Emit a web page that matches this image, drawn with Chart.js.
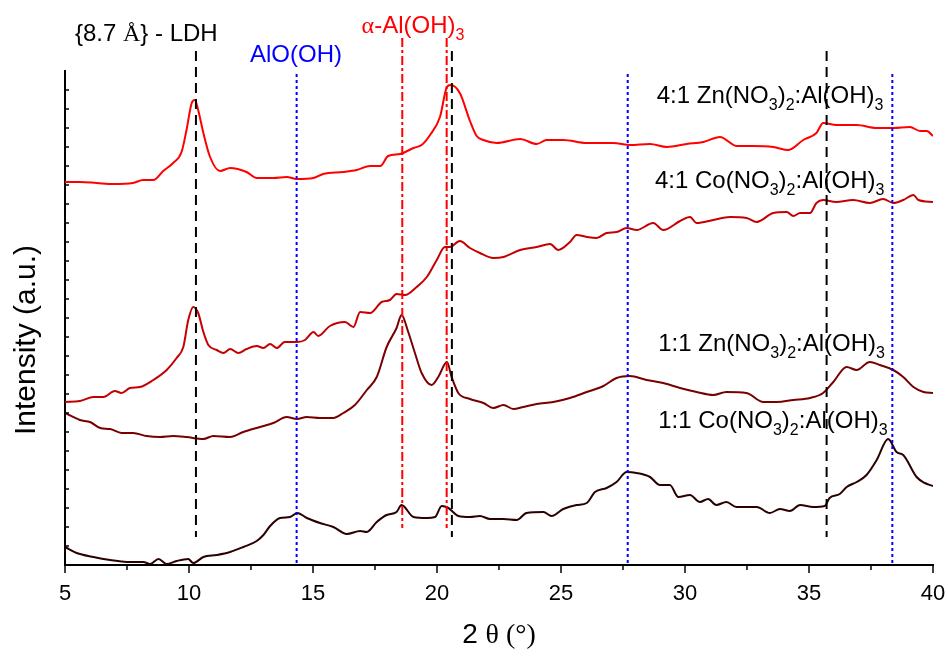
<!DOCTYPE html>
<html>
<head>
<meta charset="utf-8">
<script src="https://cdn.jsdelivr.net/npm/chart.js@4.4.1/dist/chart.umd.min.js"></script>
<style>
  html, body { margin: 0; padding: 0; background: #fff; }
</style>
</head>
<body>
<canvas id="xrd" width="948" height="659"></canvas>
<script>
// XRD patterns, 2θ in degrees / intensity in a.u. (curves are stacked with offsets)
const zn41Angle = [5, 5.6, 6.28, 6.94, 7.74, 8.15, 8.56, 8.96, 9.36, 9.70, 9.90, 10.11, 10.24, 10.37, 10.58,
  10.85, 11.25, 11.66, 12.32, 12.73, 13.40, 13.94, 14.35, 15.02, 15.41, 16.22, 16.76, 17.30, 17.71, 18.03,
  18.51, 19.05, 19.38, 19.72, 20.12, 20.40, 20.55, 20.92, 21.33, 21.60, 21.87, 22.41, 23.35, 24.02, 24.42,
  25.09, 26.04, 27.11, 27.78, 28.59, 29.27, 30.07, 30.74, 31.41, 32.09, 32.75, 33.56, 34.17, 34.77, 35.30,
  35.57, 36.11, 36.92, 37.73, 38.40, 39.07, 39.48, 39.75, 40];
const zn41Int = [383, 383, 382, 381, 382, 385, 385, 394, 402, 413, 435, 462, 465, 455, 432,
  408, 394, 397, 393, 387, 387, 388, 386, 387, 391, 393, 395, 399, 399, 409,
  411, 417, 420, 430, 448, 478, 480, 472, 444, 429, 425, 422, 426, 421, 425,
  425, 422, 422, 420, 421, 418, 421, 423, 428, 419, 419, 418, 415, 425, 432,
  442, 440, 440, 437, 437, 438, 434, 434, 429];

const co41Angle = [5, 5.6, 6.15, 6.55, 7.01, 7.28, 7.62, 8.02, 8.56, 9.10, 9.50, 9.77, 9.97, 10.17, 10.37,
  10.58, 10.78, 11.12, 11.39, 11.66, 11.99, 12.32, 12.73, 13.00, 13.27, 13.54, 13.86, 14.35, 14.68, 15.02,
  15.21, 15.68, 16.29, 16.63, 16.90, 17.30, 17.77, 18.10, 18.37, 18.71, 19.18, 19.59, 19.99, 20.32, 20.52,
  20.92, 21.33, 21.73, 22.27, 22.68, 23.35, 24.02, 24.56, 24.89, 25.36, 25.63, 26.04, 26.44, 26.84, 27.24,
  27.65, 28.05, 28.72, 29.12, 29.80, 30.20, 30.47, 31.14, 31.81, 32.48, 32.89, 33.56, 34.10, 34.37, 34.64,
  35.04, 35.30, 35.57, 36.09, 36.78, 37.45, 37.99, 38.40, 38.80, 39.21, 39.41, 40];
const co41Int = [163, 164, 168, 168, 174, 172, 177, 178, 185, 195, 207, 218, 245, 258, 252,
  233, 220, 215, 212, 216, 212, 216, 219, 217, 221, 217, 223, 223, 225, 233,
  229, 239, 243, 238, 253, 252, 263, 265, 271, 270, 278, 288, 305, 318, 318,
  324, 317, 312, 307, 308, 315, 318, 321, 315, 323, 330, 328, 327, 332, 333,
  337, 335, 342, 335, 344, 348, 342, 345, 348, 347, 343, 352, 353, 349, 352,
  352, 362, 365, 363, 365, 362, 366, 362, 365, 370, 365, 363];

const zn11Angle = [5, 5.6, 6.01, 6.42, 6.82, 7.28, 7.75, 8.29, 8.83, 9.36, 9.90, 10.58, 10.98, 11.66, 12.19,
  12.86, 13.40, 13.94, 14.35, 14.75, 15.28, 15.82, 16.22, 16.69, 17.17, 17.57, 17.97, 18.37, 18.57, 18.84,
  19.11, 19.38, 19.78, 20.05, 20.40, 20.59, 20.86, 21.33, 21.87, 22.27, 22.68, 23.08, 23.48, 24.02, 24.69,
  25.36, 26.04, 26.71, 27.24, 27.78, 28.45, 29.12, 29.80, 30.47, 31.14, 31.67, 32.48, 33.16, 33.70, 34.37,
  35.04, 35.57, 35.98, 36.52, 36.92, 37.45, 37.86, 38.40, 38.80, 39.21, 39.62, 40];
const zn11Int = [152, 145, 143, 137, 136, 132, 132, 129, 128, 129, 128, 126, 129, 128, 133,
  138, 142, 148, 146, 148, 147, 147, 152, 160, 175, 188, 218, 237, 250, 233,
  212, 192, 180, 188, 203, 188, 172, 166, 162, 157, 160, 156, 158, 161, 163,
  167, 173, 179, 187, 189, 185, 182, 177, 173, 170, 173, 172, 163, 163, 165,
  167, 172, 183, 198, 195, 203, 200, 195, 188, 178, 173, 172];

const co11Angle = [5, 5.47, 6.15, 6.82, 7.49, 8.16, 8.43, 8.77, 9.10, 9.50, 9.97, 10.17, 10.58, 11.12, 11.66,
  12.19, 12.73, 13.00, 13.27, 13.67, 14.07, 14.37, 14.75, 15.28, 15.82, 16.36, 16.90, 17.17, 17.57, 17.97,
  18.37, 18.57, 19.05, 19.59, 19.92, 20.19, 20.46, 20.86, 21.33, 21.73, 22.14, 22.68, 23.21, 23.61, 24.29,
  24.62, 25.09, 25.63, 26.04, 26.37, 26.84, 27.24, 27.65, 28.05, 28.59, 28.99, 29.39, 29.73, 30.20, 30.60,
  30.93, 31.26, 31.67, 32.07, 32.48, 32.89, 33.42, 33.83, 34.23, 34.64, 35.17, 35.63, 35.83, 36.24, 36.52,
  36.92, 37.32, 37.73, 38.19, 38.53, 38.80, 39.34, 39.67, 40];
const co11Int = [18, 12, 8, 5, 3, 3, 1, 6, 1, 4, 6, 2, 8, 10, 13,
  18, 24, 30, 39, 47, 48, 52, 47, 42, 38, 31, 34, 33, 43, 50,
  53, 60, 48, 47, 48, 59, 57, 49, 48, 49, 46, 46, 45, 52, 53,
  49, 56, 60, 62, 73, 77, 83, 93, 92, 88, 80, 80, 68, 70, 63,
  66, 60, 63, 58, 58, 58, 52, 56, 54, 60, 58, 59, 67, 71, 78,
  83, 90, 105, 126, 113, 110, 88, 82, 79];

// reference phase positions (2θ) and how far each marker line runs (a.u.)
const ldhAngles = [10.28, 20.6, 35.71];
const ldhSpan = [514, 28];
const aloohAngles = [14.34, 27.69, 38.36];
const aloohSpan = [491, 2];
const alohAngles = [18.6, 20.39];
const alohSpan = [527, 37];

const xTicks = { min: 5, max: 40, step: 2.5 };
const yRange = { min: 0, max: 494, step: 19 };

const SANS = '"Liberation Sans", Arial, sans-serif';
const SERIF = '"Liberation Serif", "Times New Roman", serif';

// text annotations: anchor in data units, parts: n = normal, s = subscript, g = serif glyph
const notes = [
  { x: 5.40, y: 524, color: '#000', size: 24, parts: [['{8.7 ', 'n'], ['Å', 'g'], ['} - LDH', 'n']] },
  { x: 12.46, y: 503, color: '#0000ff', size: 24, parts: [['AlO(OH)', 'n']] },
  { x: 16.96, y: 532, color: '#ff0000', size: 24, parts: [['α', 'g'], ['-Al(OH)', 'n'], ['3', 's']] },
  { x: 28.86, y: 462, color: '#000', size: 24, parts: [['4:1 Zn(NO', 'n'], ['3', 's'], [')', 'n'], ['2', 's'], [':Al(OH)', 'n'], ['3', 's']] },
  { x: 28.79, y: 377, color: '#000', size: 24, parts: [['4:1 Co(NO', 'n'], ['3', 's'], [')', 'n'], ['2', 's'], [':Al(OH)', 'n'], ['3', 's']] },
  { x: 28.92, y: 214, color: '#000', size: 24, parts: [['1:1 Zn(NO', 'n'], ['3', 's'], [')', 'n'], ['2', 's'], [':Al(OH)', 'n'], ['3', 's']] },
  { x: 28.92, y: 137, color: '#000', size: 24, parts: [['1:1 Co(NO', 'n'], ['3', 's'], [')', 'n'], ['2', 's'], [':Al(OH)', 'n'], ['3', 's']] }
];

const zip = (xs, ys) => xs.map((v, i) => ({ x: v, y: ys[i] }));

function curve(label, xs, ys, color) {
  return { label, data: zip(xs, ys), borderColor: color, borderWidth: 2, pointRadius: 0,
           showLine: true, cubicInterpolationMode: 'monotone', order: 1 };
}

function markers(angles, span, color, dash) {
  return angles.map(a => ({
    data: [{ x: a, y: span[0] }, { x: a, y: span[1] }],
    borderColor: color, borderWidth: 2, borderDash: dash, pointRadius: 0,
    showLine: true, clip: false, order: 0
  }));
}

const datasets = [
  curve('4:1 Zn', zn41Angle, zn41Int, '#ff0000'),
  curve('4:1 Co', co41Angle, co41Int, '#c40000'),
  curve('1:1 Zn', zn11Angle, zn11Int, '#780000'),
  curve('1:1 Co', co11Angle, co11Int, '#2a0000'),
  ...markers(ldhAngles, ldhSpan, '#000', [10, 6]),
  ...markers(aloohAngles, aloohSpan, '#0000ff', [3, 3]),
  ...markers(alohAngles, alohSpan, '#ff0000', [9, 3, 3, 3])
];

function drawParts(ctx, parts, px, py, size) {
  let cx = px;
  parts.forEach(([t, kind]) => {
    const f = kind === 's' ? Math.round(size * 0.66) : size;
    const dy = kind === 's' ? size * 0.3 : 0;
    ctx.font = f + 'px ' + (kind === 'g' ? SERIF : SANS);
    ctx.fillText(t, cx, py + dy);
    cx += ctx.measureText(t).width;
  });
}

// axis tick marks (outward on x, inward on y), titles and labels
const decorations = {
  id: 'decorations',
  afterDraw(chart) {
    const { ctx, chartArea: area, scales: { x, y } } = chart;
    ctx.save();
    ctx.strokeStyle = '#000';
    ctx.lineWidth = 1.5;
    x.ticks.forEach(t => {
      const px = x.getPixelForValue(t.value);
      const len = t.value % 5 === 0 ? 8 : 5;
      ctx.beginPath();
      ctx.moveTo(px, area.bottom);
      ctx.lineTo(px, area.bottom + len);
      ctx.stroke();
    });
    y.ticks.forEach(t => {
      if (t.value <= yRange.min || t.value >= yRange.max) return;
      const py = y.getPixelForValue(t.value);
      ctx.beginPath();
      ctx.moveTo(area.left, py);
      ctx.lineTo(area.left + 4, py);
      ctx.stroke();
    });

    ctx.textBaseline = 'alphabetic';
    ctx.textAlign = 'left';
    notes.forEach(n => {
      ctx.fillStyle = n.color;
      drawParts(ctx, n.parts, x.getPixelForValue(n.x), y.getPixelForValue(n.y), n.size);
    });

    // x title: "2 θ (°)"
    ctx.fillStyle = '#000';
    const xParts = [['2 ', 'n'], ['θ (°)', 'g']];
    let w = 0;
    xParts.forEach(([t, k]) => { ctx.font = '28px ' + (k === 'g' ? SERIF : SANS); w += ctx.measureText(t).width; });
    drawParts(ctx, xParts, (area.left + area.right) / 2 - w / 2, area.bottom + 78, 28);

    // y title
    ctx.translate(area.left - 30, area.bottom - 225);
    ctx.rotate(-Math.PI / 2);
    ctx.textAlign = 'center';
    ctx.font = '30px ' + SANS;
    ctx.fillText('Intensity (a.u.)', 0, 0);
    ctx.restore();
  }
};

new Chart(document.getElementById('xrd'), {
  type: 'scatter',
  data: { datasets },
  options: {
    responsive: false,
    animation: false,
    layout: { padding: { top: 71, right: 15, left: 0, bottom: 0 } },
    plugins: { legend: { display: false }, tooltip: { enabled: false } },
    scales: {
      x: {
        type: 'linear', min: xTicks.min, max: xTicks.max,
        grid: { display: false },
        border: { display: true, color: '#000', width: 2 },
        ticks: {
          stepSize: xTicks.step, autoSkip: false, maxRotation: 0, padding: 8, color: '#000',
          font: { family: SANS, size: 22 },
          callback: v => (v % 5 === 0 ? v : '')
        },
        afterFit: s => { s.height = 94; s.paddingRight = 0; s.paddingLeft = 0; }
      },
      y: {
        min: yRange.min, max: yRange.max,
        grid: { display: false },
        border: { display: true, color: '#000', width: 2 },
        ticks: { display: false, stepSize: yRange.step },
        afterFit: s => { s.width = 65; }
      }
    }
  },
  plugins: [decorations]
});
</script>
</body>
</html>
